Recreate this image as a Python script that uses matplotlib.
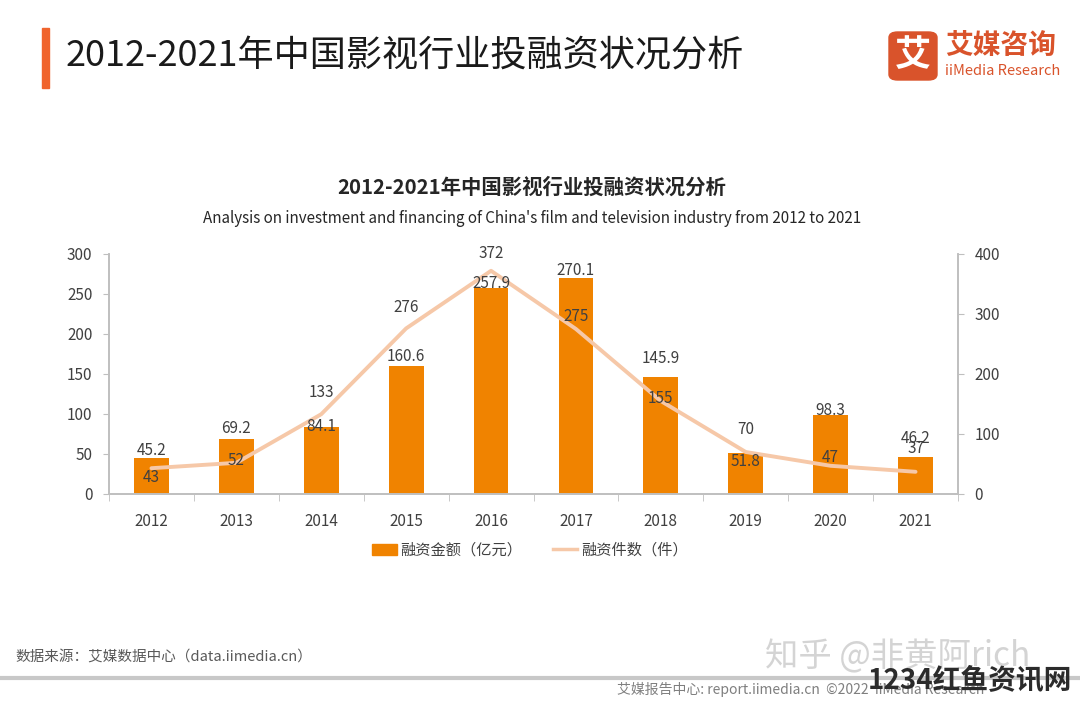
import matplotlib
matplotlib.use("Agg")
import matplotlib.pyplot as plt
from matplotlib.patches import FancyBboxPatch, Rectangle
from matplotlib.lines import Line2D
import numpy as np

plt.rcParams["font.family"] = ["Noto Sans CJK SC", "DejaVu Sans"]

years = ["2012", "2013", "2014", "2015", "2016", "2017", "2018", "2019", "2020", "2021"]
amount = [45.2, 69.2, 84.1, 160.6, 257.9, 270.1, 145.9, 51.8, 98.3, 46.2]  # 亿元
deals = [43, 52, 133, 276, 372, 275, 155, 70, 47, 37]  # 件

# label placement (pixels above the value), as laid out in the source chart
amount_label_dy = [7, 10, 0, 9, 4, 7, 19, -9, 5, 19]
deals_label_dy = [-9, 2, 22, 21, 17, 12, 2, 22, 8, 23]

BAR_COLOR = "#F08300"
LINE_COLOR = "#F6C8A8"
AXIS_COLOR = "#BFBFBF"
TEXT_COLOR = "#404040"


def main():
    fig = plt.figure(figsize=(10.8, 7.02), dpi=100)
    fig.patch.set_facecolor("white")

    # page header
    fig.patches.append(Rectangle((42 / 1080, 1 - 88 / 702), 7 / 1080, 60 / 702,
                                 transform=fig.transFigure, color="#F0642D"))
    fig.text(66 / 1080, 1 - 56 / 702, "2012-2021年中国影视行业投融资状况分析",
             fontsize=26, color="#1A1A1A", va="center", ha="left")

    # logo
    fig.patches.append(FancyBboxPatch((889 / 1080, 1 - 80 / 702), 48 / 1080, 48 / 702,
                                      boxstyle="round,pad=0,rounding_size=0.008",
                                      transform=fig.transFigure, color="#D9532B"))
    fig.text(913 / 1080, 1 - 56 / 702, "艾", fontsize=26, color="white",
             ha="center", va="center", fontweight="bold")
    fig.text(945 / 1080, 1 - 46 / 702, "艾媒咨询", fontsize=20, color="#D9532B",
             ha="left", va="center", fontweight="bold")
    fig.text(945 / 1080, 1 - 71 / 702, "iiMedia Research", fontsize=10.5, color="#D9532B",
             ha="left", va="center")

    # chart titles
    fig.text(532 / 1080, 1 - 187 / 702, "2012-2021年中国影视行业投融资状况分析",
             fontsize=14.7, fontweight="bold", color="#262626", ha="center", va="center")
    fig.text(532 / 1080, 1 - 218 / 702,
             "Analysis on investment and financing of China's film and television industry from 2012 to 2021",
             fontsize=10.9, color="#262626", ha="center", va="center")

    ax = fig.add_axes([109 / 1080, 1 - 494 / 702, 849 / 1080, 240 / 702])
    ax2 = ax.twinx()

    x = np.arange(len(years))
    bars = ax.bar(x, amount, width=0.41, color=BAR_COLOR, zorder=2)
    ax.set_xlim(-0.5, len(years) - 0.5)
    ax.set_ylim(0, 300)
    ax.set_yticks(range(0, 301, 50))
    ax.set_xticks(x)
    ax.set_xticklabels(years)
    ax.set_xticks(np.arange(-0.5, len(years), 1.0), minor=True)
    ax.tick_params(axis="x", which="major", length=0, pad=14, labelsize=11, labelcolor=TEXT_COLOR)
    ax.tick_params(axis="x", which="minor", length=5, color=AXIS_COLOR, direction="out")
    ax.tick_params(axis="y", length=4, color=AXIS_COLOR, labelsize=11, labelcolor=TEXT_COLOR, pad=8)

    for b, v, dy in zip(bars, amount, amount_label_dy):
        ax2.annotate(f"{v}", (b.get_x() + b.get_width() / 2, v * 400 / 300),
                     xytext=(0, dy), textcoords="offset pixels",
                     ha="center", va="center", fontsize=11, color=TEXT_COLOR, zorder=5)

    ax2.plot(x, deals, color=LINE_COLOR, linewidth=2.8, zorder=3, solid_capstyle="round")
    ax2.set_ylim(0, 400)
    ax2.set_yticks(range(0, 401, 100))
    ax2.tick_params(axis="y", length=4, color=AXIS_COLOR, labelsize=11, labelcolor=TEXT_COLOR, pad=8)
    for xi, v, dy in zip(x, deals, deals_label_dy):
        ax2.annotate(f"{v}", (xi, v), xytext=(0, dy), textcoords="offset pixels",
                     ha="center", va="center", fontsize=11, color=TEXT_COLOR, zorder=5)

    for a in (ax, ax2):
        a.spines["top"].set_visible(False)
        for s in ("left", "right", "bottom"):
            a.spines[s].set_color(AXIS_COLOR)
            a.spines[s].set_linewidth(1.2)

    # legend
    handles = [Rectangle((0, 0), 1, 1, color=BAR_COLOR),
               Line2D([0], [0], color=LINE_COLOR, linewidth=2.5)]
    fig.legend(handles, ["融资金额（亿元）", "融资件数（件）"],
               loc="center", bbox_to_anchor=(530 / 1080, 1 - 550 / 702), ncol=2,
               frameon=False, fontsize=11, handlelength=1.6, handleheight=0.7,
               columnspacing=2.0, handletextpad=0.25, labelcolor=TEXT_COLOR)

    # footer
    fig.text(15 / 1080, 1 - 657 / 702, "数据来源：艾媒数据中心（data.iimedia.cn）",
             fontsize=10.5, color="#595959", ha="left", va="center")
    fig.add_artist(Line2D([0, 1], [1 - 678 / 702, 1 - 678 / 702],
                          transform=fig.transFigure, color="#C8C8C8", linewidth=3))
    fig.text(617 / 1080, 1 - 689 / 702, "艾媒报告中心: report.iimedia.cn  ©2022  iiMedia Research",
             fontsize=10, color="#7F7F7F", ha="left", va="center")

    # watermarks
    fig.text(765 / 1080, 1 - 657 / 702, "知乎 @非黄阿rich", fontsize=24,
             color="#D0D0D0", ha="left", va="center", alpha=0.9)
    fig.text(868 / 1080, 1 - 681 / 702, "1234红鱼资讯网", fontsize=20,
             color="#2B2B2B", ha="left", va="center", fontweight="bold")

    fig.savefig("out.png", dpi=100)
    plt.close(fig)


if __name__ == "__main__":
    main()
